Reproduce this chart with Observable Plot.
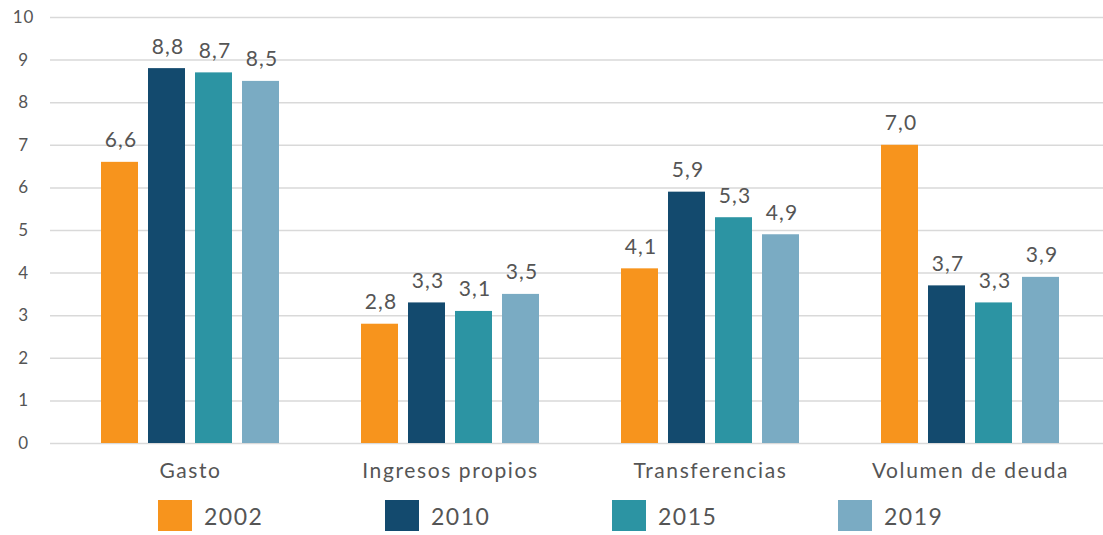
<!DOCTYPE html>
<html>
<head>
<meta charset="utf-8">
<script src="https://cdn.jsdelivr.net/npm/d3@7"></script>
<script src="https://cdn.jsdelivr.net/npm/@observablehq/plot@0.6"></script>
<style>
  html, body { margin: 0; padding: 0; background: #fff; }
  body { width: 1103px; height: 535px; overflow: hidden; font-family: "Lato", "Noto Sans", sans-serif; }
  #chart { position: relative; width: 1103px; height: 490px; }
  #chart svg { position: absolute; left: 0; top: 0; }
  #legend { position: relative; height: 45px; }
  .item { position: absolute; top: 10px; display: flex; align-items: center; }
  .sw { width: 34px; height: 31px; margin-right: 12px; }
  .lab { font-size: 23px; color: #555; letter-spacing: 1.5px; }
</style>
</head>
<body>
<div id="chart"></div>
<div id="legend"></div>
<script>
const categories = ["Gasto", "Ingresos propios", "Transferencias", "Volumen de deuda"];
const years = ["2002", "2010", "2015", "2019"];
const v2002 = [6.6, 2.8, 4.1, 7.0];
const v2010 = [8.8, 3.3, 5.9, 3.7];
const v2015 = [8.7, 3.1, 5.3, 3.3];
const v2019 = [8.5, 3.5, 4.9, 3.9];
const yTicks = [0, 1, 2, 3, 4, 5, 6, 7, 8, 9, 10];
const colors = ["#F7941D", "#134A6E", "#2C94A3", "#7AABC3"];

const series = [v2002, v2010, v2015, v2019];
const data = [];
categories.forEach((c, i) => {
  years.forEach((y, j) => data.push({category: c, year: y, value: series[j][i]}));
});
const fmt = v => d3.format(".1f")(v).replace(".", ",");

const font = "Lato, 'Noto Sans', sans-serif";
const W = 1103, H = 490, MT = 17, MB = 47;

// Layer 1: y axis and full-width gridlines
const grid = Plot.plot({
  width: W, height: H, marginTop: MT, marginBottom: MB,
  marginLeft: 50, marginRight: 0,
  style: {fontFamily: font, fontSize: "17px", color: "#555", background: "#fff", letterSpacing: "0.8px"},
  y: {domain: [0, 10], ticks: yTicks, label: null, tickSize: 0, tickPadding: 27, tickFormat: d => d},
  marks: [
    Plot.ruleY(yTicks, {stroke: "#d9d9d9", strokeWidth: 1.5})
  ]
});
grid.querySelectorAll("text").forEach(t => t.setAttribute("text-anchor", "middle"));

// Layer 2: grouped bars via facets
const bars = Plot.plot({
  width: W, height: H, marginTop: MT, marginBottom: MB,
  marginLeft: 99, marginRight: 43,
  style: {fontFamily: font, fontSize: "21px", color: "#555", background: "transparent", overflow: "visible", letterSpacing: "1.6px"},
  fx: {domain: categories, paddingInner: 0.3156, paddingOuter: 0, label: null, axis: "bottom", tickSize: 0, tickPadding: 20},
  x: {domain: years, paddingInner: 0.216, paddingOuter: 0, axis: null},
  y: {domain: [0, 10], axis: null},
  color: {domain: years, range: colors},
  marks: [
    Plot.barY(data, {fx: "category", x: "year", y: "value", fill: "year"}),
    Plot.text(data, {fx: "category", x: "year", y: "value", text: d => fmt(d.value), lineAnchor: "bottom", dy: -15, dx: 1, fontSize: 21, fill: "#555"})
  ]
});
bars.querySelectorAll("g[aria-label='text'] text").forEach(t => t.style.letterSpacing = "1.2px");

const chartDiv = document.getElementById("chart");
chartDiv.appendChild(grid);
chartDiv.appendChild(bars);

const legend = document.getElementById("legend");
const lx = [158, 385, 612, 838];
years.forEach((y, i) => {
  const it = document.createElement("div");
  it.className = "item";
  it.style.left = lx[i] + "px";
  it.innerHTML = `<div class="sw" style="background:${colors[i]}"></div><span class="lab">${y}</span>`;
  legend.appendChild(it);
});
</script>
</body>
</html>
